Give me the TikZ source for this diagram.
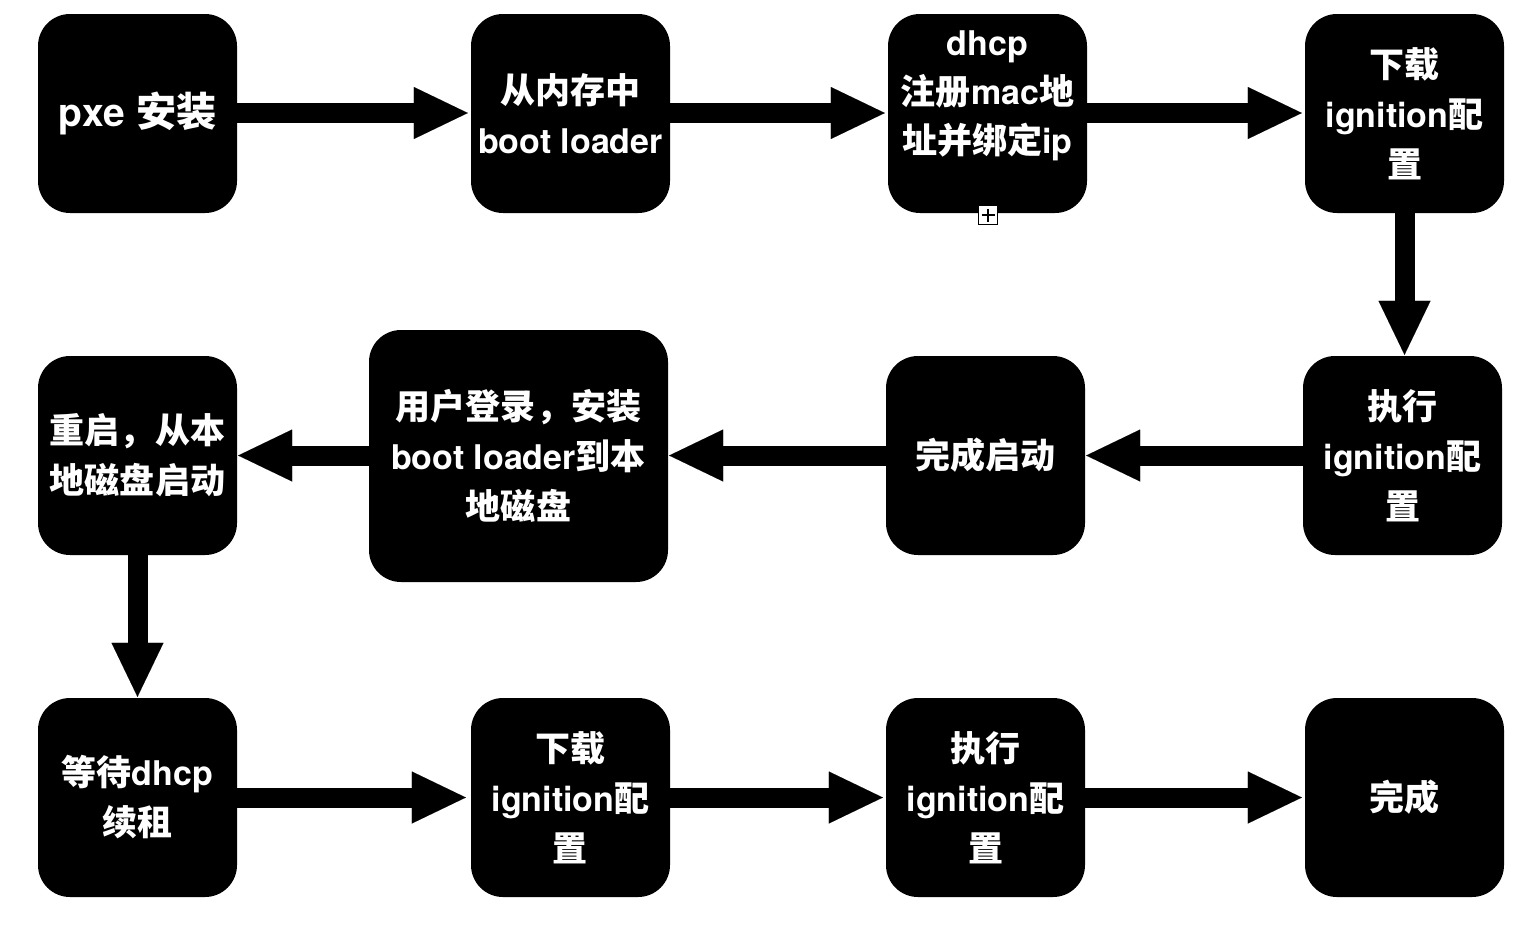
\documentclass[tikz,border=0pt]{standalone}
\usepackage{fontspec}
\setmainfont{TeX Gyre Heros}
\newfontfamily\cjk{Noto Sans CJK SC}[Scale=1.03]
\newcommand{\zh}[1]{{\cjk #1}}
\usetikzlibrary{arrows.meta}
\begin{document}
\begin{tikzpicture}[x=1pt,y=-1pt,
  box/.style={fill=black, text=white, rounded corners=32pt, minimum width=199pt, minimum height=199pt, inner sep=0pt, align=center, font=\fontsize{34}{50}\selectfont\bfseries},
  txt/.style={text=white, inner sep=0pt, align=center, font=\fontsize{34}{49}\selectfont\bfseries},
  flow/.style={line width=20pt, draw=black, -{Triangle[length=54pt,width=52pt,line width=0.01pt]}, shorten >=3pt}
]
\useasboundingbox (0,0) rectangle (1536,924);
\fill[white] (0,0) rectangle (1536,924);
% row 1
\node[box, font=\fontsize{39}{50}\selectfont\bfseries] (n1) at (137.5,113.5) {pxe \zh{安装}};
\node[box] (n2) at (570.5,113.5) {\zh{从内存中}\\boot loader};
\node[box] (n3) at (987.5,113.5) {};
\node[txt] (n3t) at (987.5,96) {dhcp\\\zh{注册}mac\zh{地}\\\zh{址并绑定}ip};
\node[box] (n4) at (1404.5,113.5) {\zh{下载}\\ignition\zh{配}\\\zh{置}};
% row 2
\node[box] (n5) at (1402.5,455.5) {\zh{执行}\\ignition\zh{配}\\\zh{置}};
\node[box] (n6) at (985.5,455.5) {\zh{完成启动}};
\node[box, minimum width=299pt, minimum height=252pt] (n7) at (518.5,456) {\zh{用户登录，安装}\\boot loader\zh{到本}\\\zh{地磁盘}};
\node[box] (n8) at (137.5,455.5) {\zh{重启，从本}\\\zh{地磁盘启动}};
% row 3
\node[box] (n9) at (137.5,797.5) {\zh{等待}dhcp\\\zh{续租}};
\node[box] (n10) at (570.5,797.5) {\zh{下载}\\ignition\zh{配}\\\zh{置}};
\node[box] (n11) at (985.5,797.5) {\zh{执行}\\ignition\zh{配}\\\zh{置}};
\node[box] (n12) at (1404.5,797.5) {\zh{完成}};
% expand icon
\node[draw=black, fill=white, line width=1.5pt, minimum size=19pt, inner sep=0pt] (exp) at (988,215) {};
\draw[line width=1.5pt] ([xshift=-6.5pt]exp.center) -- ([xshift=6.5pt]exp.center);
\draw[line width=1.5pt] ([yshift=-6.5pt]exp.center) -- ([yshift=6.5pt]exp.center);
% connectors
\draw[flow] ([yshift=0.5pt]n1.east) -- ([yshift=0.5pt]n2.west);
\draw[flow] ([yshift=0.5pt]n2.east) -- ([yshift=0.5pt]n3.west);
\draw[flow] ([yshift=0.5pt]n3.east) -- ([yshift=0.5pt]n4.west);
\draw[flow, shorten >=1pt] (n4.south) -- (n4.south |- n5.north);
\draw[flow, shorten >=1pt] (n5.west) -- (n6.east);
\draw[flow, shorten >=1pt] (n6.west) -- (n6.west -| n7.east);
\draw[flow, shorten >=1pt] (n7.west |- n8.east) -- (n8.east);
\draw[flow, shorten >=1pt] (n8.south) -- (n9.north);
\draw[flow, shorten >=5pt] (n9.east) -- (n10.west);
\draw[flow] (n10.east) -- (n11.west);
\draw[flow] (n11.east) -- (n12.west);
\end{tikzpicture}
\end{document}
